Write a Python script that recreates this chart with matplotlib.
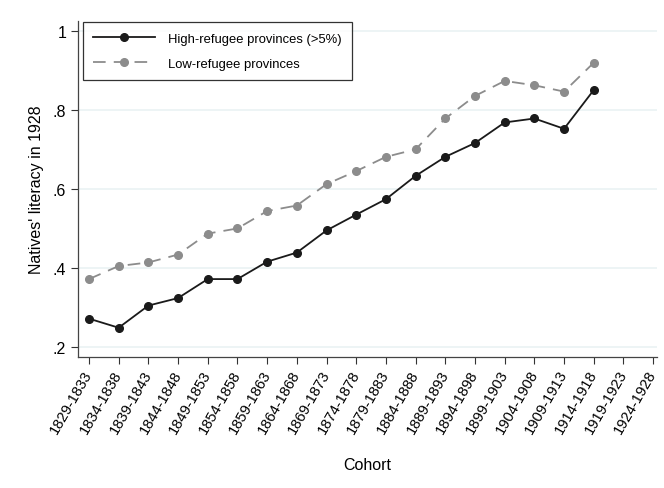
import matplotlib
matplotlib.use("Agg")
import matplotlib.pyplot as plt
import numpy as np

plt.rcParams['font.family'] = ['Liberation Sans', 'DejaVu Sans']

cohorts = ["1829-1833", "1834-1838", "1839-1843", "1844-1848", "1849-1853",
           "1854-1858", "1859-1863", "1864-1868", "1869-1873", "1874-1878",
           "1879-1883", "1884-1888", "1889-1893", "1894-1898", "1899-1903",
           "1904-1908", "1909-1913", "1914-1918", "1919-1923", "1924-1928"]
high_refugee = [0.272, 0.249, 0.305, 0.324, 0.372, 0.372, 0.416, 0.439, 0.495, 0.535,
                0.574, 0.633, 0.681, 0.716, 0.768, 0.778, 0.752, 0.850]
low_refugee = [0.372, 0.405, 0.414, 0.434, 0.487, 0.500, 0.544, 0.558, 0.612, 0.645,
               0.681, 0.700, 0.778, 0.835, 0.873, 0.862, 0.846, 0.919]
yticks = [0.2, 0.4, 0.6, 0.8, 1.0]
ytick_labels = [".2", ".4", ".6", ".8", "1"]

fig = plt.figure(figsize=(6.64, 4.89), dpi=100)
ax = fig.add_axes([78/664, 1-358/489, (657-78)/664, (358-22)/489])

x = np.arange(len(cohorts))
ax.plot(x[:len(high_refugee)], high_refugee, color='#1a1a1a', lw=1.3, marker='o',
        ms=5.5, label='High-refugee provinces (>5%)')
ax.plot(x[:len(low_refugee)], low_refugee, color='#8c8c8c', lw=1.3, marker='o',
        ms=5.5, dashes=(7, 4.5), label='Low-refugee provinces')

ax.set_xlim(-0.37, 19.13)
ax.set_ylim(0.175, 1.0245)
ax.set_yticks(yticks)
ax.set_yticklabels(ytick_labels, fontsize=11.5)
ax.set_xticks(x)
ax.set_xticklabels(cohorts, fontsize=10.6, rotation=60, ha='right',
                   rotation_mode='anchor', va='center')
ax.tick_params(axis='x', pad=5)
ax.tick_params(direction='out', length=5, width=0.8, color='#333333')
ax.grid(axis='y', color='#eaf2f3', lw=1.2)
ax.set_axisbelow(True)
for s in ['top', 'right']:
    ax.spines[s].set_visible(False)
for s in ['left', 'bottom']:
    ax.spines[s].set_color('#444444')
    ax.spines[s].set_linewidth(0.9)

ax.set_ylabel("Natives' literacy in 1928", fontsize=11.5, labelpad=6)
ax.set_xlabel("Cohort", fontsize=11.5, labelpad=15)

leg = ax.legend(loc='upper left', bbox_to_anchor=(83/664, 1-23/489),
                bbox_transform=fig.transFigure, fontsize=9.4, frameon=True,
                fancybox=False, edgecolor='black', handlelength=4.7,
                borderaxespad=0, borderpad=0.8, labelspacing=1.0, handletextpad=1.0)
leg.get_frame().set_linewidth(0.9)

fig.savefig("out.png", dpi=100, facecolor='white')
